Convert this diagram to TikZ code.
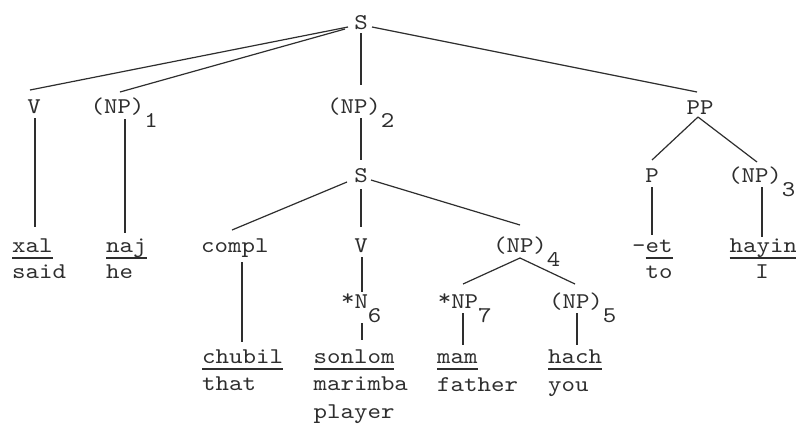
\documentclass[tikz,border=0pt]{standalone}
\usepackage{fontspec}
\setmonofont{lmmono10-regular.otf}[FakeStretch=1.14]
\usetikzlibrary{calc}
\newcommand\tyf{\fontsize{22.5}{27}\selectfont\ttfamily}
\newcommand\subs[1]{\rlap{\raisebox{-14.5pt}{#1}}}
\newcommand\ul[1]{\setbox0\hbox{#1}\rlap{\rule[-6.5pt]{\wd0}{1.3pt}}\box0}
\newcommand\mystar{\raisebox{3pt}{*}}
\definecolor{ink}{HTML}{2E2E2E}
\tikzset{
  lab/.style={inner sep=0pt, anchor=base, font=\tyf, text=ink},
  word/.style={inner sep=0pt, anchor=base west, font=\tyf, text=ink},
  br/.style={draw=ink, line width=1.2pt}
}
\begin{document}
\begin{tikzpicture}[x=1pt,y=-1pt]
\useasboundingbox[fill=white] (0,0) rectangle (796,424);
% top level
\node[lab] (S0) at (361,29) {S};
\node[lab] (V1) at (34,113) {V};
\node[lab] (NP1) at (117.5,113) {(NP)\subs{1}};
\node[lab] (NP2) at (354,113) {(NP)\subs{2}};
\node[lab] (PP) at (700,114) {PP};
% left words
\node[word] (xal) at (12,252) {\ul{xal}};
\node[word] (said) at (12,278) {said};
\node[word] (naj) at (106,252) {\ul{naj}};
\node[word] (he) at (106,278) {he};
% embedded S
\node[lab] (S2) at (361,182) {S};
\node[word] (compl) at (201,252) {compl};
\node[word] (chubil) at (202,363) {\ul{chubil}};
\node[word] (that) at (202,390) {that};
\node[lab] (V2) at (361,252) {V};
\node[lab] (N6) at (354.5,308) {\mystar N\subs{6}};
\node[word] (sonlom) at (313.5,363) {\ul{sonlom}};
\node[word] (marimba) at (313.5,390) {marimba};
\node[word] (player) at (313.5,418) {player};
\node[lab] (NP4) at (520,252) {(NP)\subs{4}};
\node[lab] (NP7) at (458,308) {\mystar NP\subs{7}};
\node[lab] (NP5) at (576,308) {(NP)\subs{5}};
\node[word] (mam) at (437,363) {\ul{mam}};
\node[word] (father) at (437,391) {father};
\node[word] (hach) at (548,363) {\ul{hach}};
\node[word] (you) at (548,391) {you};
% PP
\node[lab] (P) at (652,182) {P};
\node[lab] (NP3) at (755,182) {(NP)\subs{3}};
\node[word] (et) at (632,252) {-\ul{et}};
\node[word] (to) at (645.5,278) {to};
\node[word] (hayin) at (729.5,252) {\ul{hayin}};
\node[lab] (I) at (762,278) {I};
% branches from top S
\draw[br] ($(S0.base)+(-13,-2)$) -- ($(V1.base)+(-4,-23)$);
\draw[br] ($(S0.base)+(-16,0)$) -- ($(NP1.base)+(2.5,-21)$);
\draw[br] ($(S0.base)+(0,4)$) -- ($(S0.base)+(0,56)$);
\draw[br] ($(S0.base)+(11,-2)$) -- ($(PP.base)+(-3,-22)$);
% first level down
\draw[br] ($(V1.base)+(1,5)$) -- ($(V1.base)+(1,114)$);
\draw[br] ($(NP1.base)+(7.5,6)$) -- ($(NP1.base)+(7.5,120)$);
\draw[br] ($(NP2.base)+(7,5)$) -- ($(S2.base)+(0,-22)$);
% embedded S
\draw[br] ($(S2.base)+(-14,0)$) -- ($(compl.base west)+(31,-22)$);
\draw[br] ($(S2.base)+(0,7)$) -- ($(V2.base)+(0,-25)$);
\draw[br] ($(S2.base)+(10,-2)$) -- ($(NP4.base)+(0,-27)$);
\draw[br] ($(compl.base west)+(41,10)$) -- ($(compl.base west)+(41,90)$);
\draw[br] ($(V2.base)+(1,5)$) -- ($(V2.base)+(1,40)$);
\draw[br] ($(N6.base)+(7.5,15)$) -- ($(N6.base)+(7.5,32)$);
\draw[br] ($(NP4.base)+(0,6)$) -- ($(NP7.base)+(5,-24)$);
\draw[br] ($(NP4.base)+(0,6)$) -- ($(NP5.base)+(-1,-24)$);
\draw[br] ($(NP7.base)+(5,5)$) -- ($(NP7.base)+(5,37)$);
\draw[br] ($(NP5.base)+(1,5)$) -- ($(NP5.base)+(1,37)$);
% PP
\draw[br] ($(PP.base)+(-2,3)$) -- ($(P.base)+(0,-22)$);
\draw[br] ($(PP.base)+(-2,3)$) -- ($(NP3.base)+(2,-20)$);
\draw[br] ($(P.base)+(0,5)$) -- ($(P.base)+(0,53)$);
\draw[br] ($(NP3.base)+(7,5)$) -- ($(NP3.base)+(7,55)$);
\end{tikzpicture}
\end{document}
